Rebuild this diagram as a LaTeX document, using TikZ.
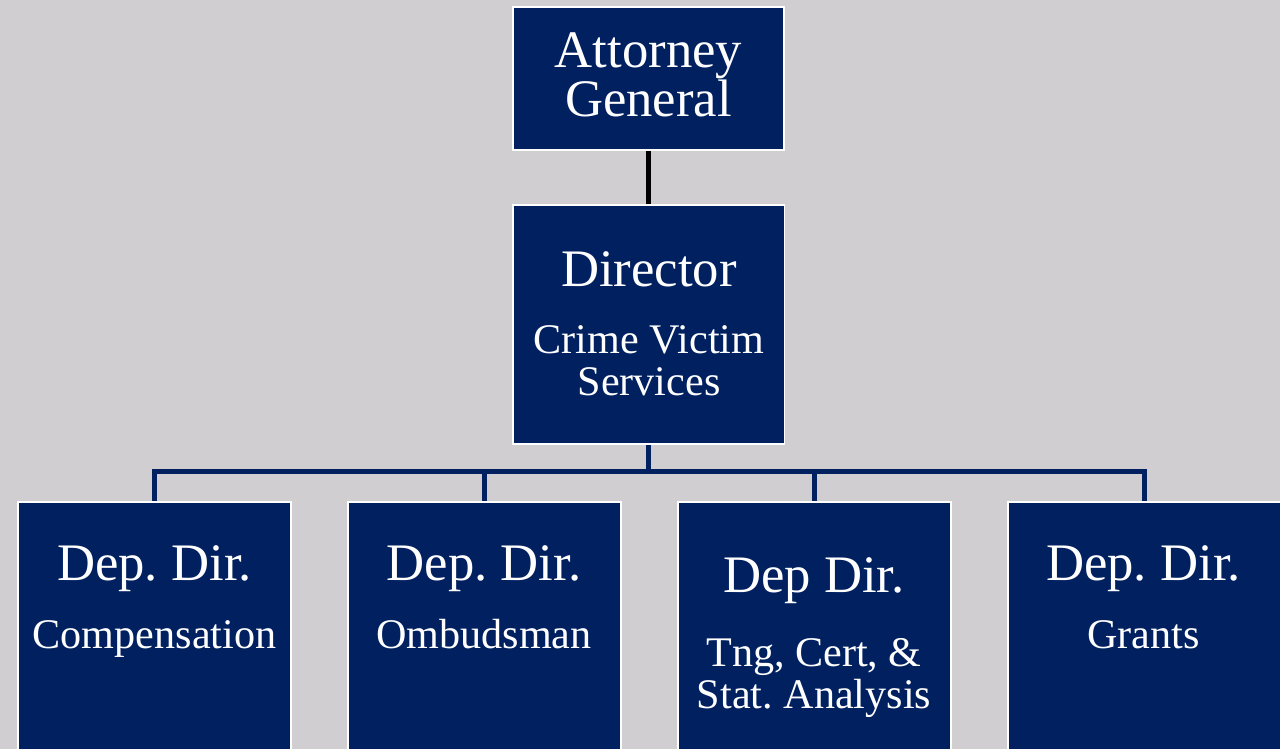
\documentclass[tikz,border=0pt]{standalone}
\usepackage{fontspec}
\setmainfont{Liberation Serif}
\usetikzlibrary{positioning}
\definecolor{navy}{RGB}{0,32,96}
\definecolor{slide}{RGB}{208,206,208}
\frenchspacing

\begin{document}
\begin{tikzpicture}[x=0.02cm, y=-0.02cm,
    box/.style={draw=white, fill=navy, line width=1.1pt, inner sep=0pt},
    title/.style={text=white, inner sep=0pt, align=center, font=\fontsize{30}{27}\selectfont},
    unit/.style={text=white, inner sep=0pt, align=center, font=\fontsize{24}{24}\selectfont},
    link/.style={navy, line width=2.8pt}
  ]
    % Slide background
    \fill[slide] (0,0) rectangle (1280,749);
    \clip (0,0) rectangle (1280,749);

    % Top of the chart
    \node[box, minimum width=5.42cm, minimum height=2.86cm] (ag) at (648.5,78.5) {};
    \node[box, minimum width=5.44cm, minimum height=4.78cm, below=1.06cm of ag] (dir) {};

    % Deputy directors - row placed relative to the first box
    \node[box, minimum width=5.46cm, minimum height=6cm, anchor=north] (dep1) at (154.5,501) {};
    \node[box, minimum width=5.46cm, minimum height=6cm, right=1.1cm of dep1] (dep2) {};
    \node[box, minimum width=5.46cm, minimum height=6cm, right=1.1cm of dep2] (dep3) {};
    \node[box, minimum width=5.46cm, minimum height=6cm, right=1.1cm of dep3] (dep4) {};

    % Box texts
    \node[title, anchor=north] (agname) at (648.5,32) {Attorney\\General};
    \node[title, anchor=base] (dirname) at (649,287) {Director};
    \node[unit, anchor=north] (dirunit) at (649,325) {Crime Victim\\Services};
    \node[title, anchor=base] (dep1name) at (154.5,580) {Dep. Dir.};
    \node[unit, anchor=base] (dep1unit) at (154.5,648) {Compensation};
    \node[title, anchor=base] (dep2name) at (484,580) {Dep. Dir.};
    \node[unit, anchor=base] (dep2unit) at (484,648) {Ombudsman};
    \node[title, anchor=base] (dep3name) at (814,592) {Dep Dir.};
    \node[unit, anchor=north] (dep3unit) at (814,638) {Tng, Cert, \&\\Stat. Analysis};
    \node[title, anchor=base] (dep4name) at (1143.5,580) {Dep. Dir.};
    \node[unit, anchor=base] (dep4unit) at (1143.5,648) {Grants};

    % Connectors
    \draw[line width=2.8pt] (ag) -- (dir);
    \draw[link] (dir.south) -- ++(0,27) coordinate (bus);
    \foreach \n in {1,...,4}
      \draw[link] (bus) -| (dep\n.north);

\end{tikzpicture}
\end{document}
